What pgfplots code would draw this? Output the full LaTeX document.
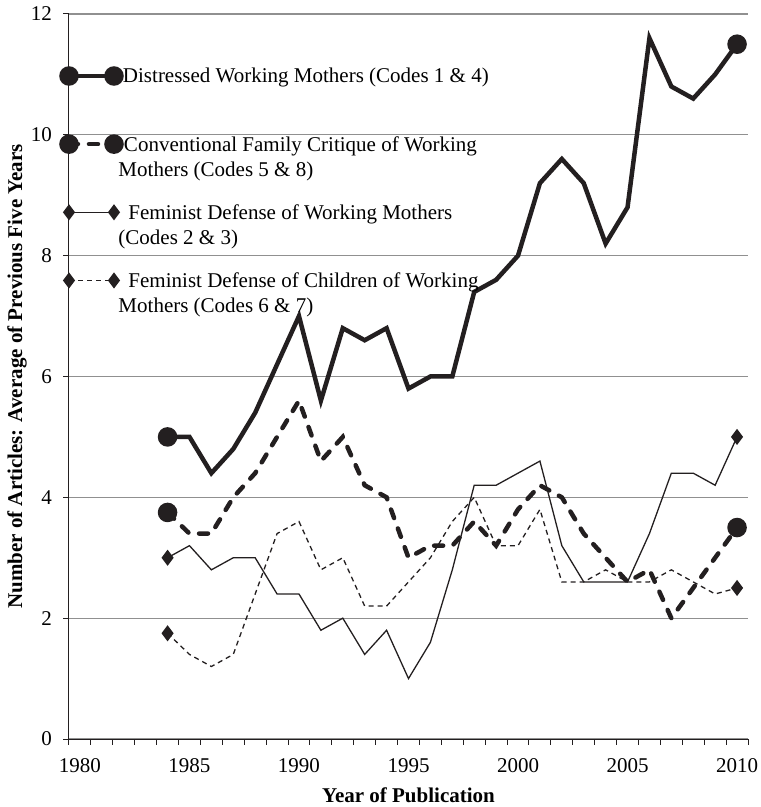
\documentclass[border=0pt]{standalone}
\usepackage{pgfplots}
\pgfplotsset{compat=1.18}
\usepackage{pgfplotstable}
\usepackage{fontspec}
\setmainfont{Liberation Serif}
\definecolor{ink}{HTML}{231F20}
\definecolor{gridgray}{HTML}{909090}

\pgfplotstableread{
year D C FW FC
1984 5.0 3.75 3.0 1.75
1985 5.0 3.4 3.2 1.4
1986 4.4 3.4 2.8 1.2
1987 4.8 4.0 3.0 1.4
1988 5.4 4.4 3.0 2.4
1989 6.2 5.0 2.4 3.4
1990 7.0 5.6 2.4 3.6
1991 5.6 4.6 1.8 2.8
1992 6.8 5.0 2.0 3.0
1993 6.6 4.2 1.4 2.2
1994 6.8 4.0 1.8 2.2
1995 5.8 3.0 1.0 2.6
1996 6.0 3.2 1.6 3.0
1997 6.0 3.2 2.8 3.6
1998 7.4 3.6 4.2 4.0
1999 7.6 3.2 4.2 3.2
2000 8.0 3.8 4.4 3.2
2001 9.2 4.2 4.6 3.8
2002 9.6 4.0 3.2 2.6
2003 9.2 3.4 2.6 2.6
2004 8.2 3.0 2.6 2.8
2005 8.8 2.6 2.6 2.6
2006 11.6 2.8 3.4 2.6
2007 10.8 2.0 4.4 2.8
2008 10.6 2.5 4.4 2.6
2009 11.0 3.0 4.2 2.4
2010 11.5 3.5 5.0 2.5
}\datatable

\newcommand{\lentry}[3]{\parbox[b]{420bp}{\hspace*{#1}#2\\#3}}

\begin{document}
\fontsize{21bp}{25bp}\selectfont
\begin{tikzpicture}
\begin{axis}[
  name=ax,
  scale only axis,
  width=679bp, height=725bp,
  xmin=1979.5, xmax=2010.5, ymin=0, ymax=12,
  axis lines*=left,
  axis line style={ink, line width=1bp},
  xtick={1979.5,1980.5,...,2010.5},
  xticklabels={},
  extra x ticks={1980,1985,...,2010},
  extra x tick style={major tick length=0pt, grid=none},
  ytick={0,2,...,12},
  tick align=outside,
  major tick length=6bp,
  tick style={ink, line width=1bp},
  ymajorgrids,
  grid style={gridgray, line width=1.2bp},
  /pgf/number format/assume math mode=true,
  /pgf/number format/1000 sep={},
  xticklabel style={anchor=center, yshift=-27bp},
  yticklabel style={anchor=east, xshift=-4bp},
  xlabel={Year of Publication},
  ylabel={Number of Articles: Average of Previous Five Years},
  label style={font=\bfseries},
  xlabel style={at={(axis description cs:0.5,0)}, anchor=center, yshift=-56bp},
  ylabel style={at={(axis description cs:-0.0766,0.5)}, anchor=center},
  legend style={at={(rel axis cs:0,1)}, anchor=north west, draw=none, fill=none,
    inner sep=0pt, outer sep=0pt, row sep=25bp, xshift=-7.5bp, yshift=-54bp,
    nodes={inner sep=0pt, anchor=base west}},
  legend cell align=left,
  legend image code/.code={%
    \pgfpathrectangle{\pgfpoint{-7.5bp}{24bp}}{\pgfpoint{57bp}{16bp}}%
    \pgfusepath{use as bounding box}%
    \draw[#1, mark indices={1,2}] plot coordinates {(0bp,32bp) (45bp,32bp)};},
  every axis plot/.append style={ink},
]
\addplot[ink, line width=4.5bp, mark=*, mark size=7.5bp, mark indices={1,27}, mark options={solid}] table[x=year, y=D] {\datatable};
\addlegendentry{\lentry{4.5bp}{Distressed Working Mothers (Codes 1 \& 4)}{\mbox{}}}
\addplot[ink, line width=4.5bp, line cap=round, dash pattern=on 9bp off 11bp, mark=*, mark size=7.5bp, mark indices={1,27}, mark options={solid}] table[x=year, y=C] {\datatable};
\addlegendentry{\lentry{5.5bp}{Conventional Family Critique of Working}{Mothers (Codes 5 \& 8)}}
\addplot[ink, line width=1.3bp, mark=diamond*, mark size=7bp, mark indices={1,27}, mark options={solid}] table[x=year, y=FW] {\datatable};
\addlegendentry{\lentry{10bp}{Feminist Defense of Working Mothers}{(Codes 2 \& 3)}}
\addplot[ink, line width=1.3bp, dash pattern=on 5bp off 4bp, mark=diamond*, mark size=7bp, mark indices={1,27}, mark options={solid}] table[x=year, y=FC] {\datatable};
\addlegendentry{\lentry{10bp}{Feminist Defense of Children of Working}{Mothers (Codes 6 \& 7)}}
\end{axis}
\pgfresetboundingbox
\path ([shift={(-69bp,-68bp)}]ax.south west) rectangle ([shift={(13bp,14bp)}]ax.north east);
\end{tikzpicture}
\end{document}
